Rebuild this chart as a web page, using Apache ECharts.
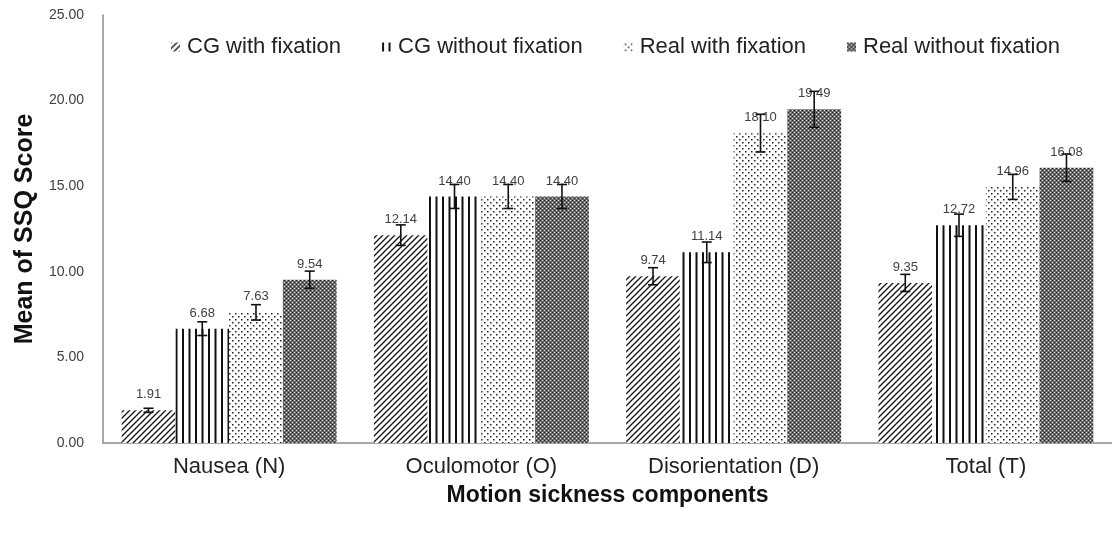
<!DOCTYPE html>
<html>
<head>
<meta charset="utf-8">
<script src="https://cdn.jsdelivr.net/npm/echarts@6/dist/echarts.min.js"></script>
<style>
html,body{margin:0;padding:0;background:#fff;}
#chart{width:1112px;height:533px;}
</style>
</head>
<body>
<div id="chart"></div>
<script>
const categories = ['Nausea (N)', 'Oculomotor (O)', 'Disorientation (D)', 'Total (T)'];
const seriesNames = ['CG with fixation', 'CG without fixation', 'Real with fixation', 'Real without fixation'];
const cgWithFixation = [1.91, 12.14, 9.74, 9.35];
const cgWithoutFixation = [6.68, 14.40, 11.14, 12.72];
const realWithFixation = [7.63, 14.40, 18.10, 14.96];
const realWithoutFixation = [9.54, 14.40, 19.49, 16.08];
const errCgWith = [0.12, 0.6, 0.5, 0.5];
const errCgWithout = [0.4, 0.7, 0.6, 0.65];
const errRealWith = [0.45, 0.7, 1.1, 0.73];
const errRealWithout = [0.5, 0.7, 1.05, 0.8];
const yTicks = [0, 5, 10, 15, 20, 25];

const values = [cgWithFixation, cgWithoutFixation, realWithFixation, realWithoutFixation];
const errors = [errCgWith, errCgWithout, errRealWith, errRealWithout];

function makeTile(w, h, draw) {
  const c = document.createElement('canvas');
  c.width = w; c.height = h;
  const ctx = c.getContext('2d');
  ctx.fillStyle = '#fff';
  ctx.fillRect(0, 0, w, h);
  draw(ctx);
  return c;
}
const hatch = makeTile(6, 6, ctx => {
  ctx.strokeStyle = '#111';
  ctx.lineWidth = 1.3;
  ctx.beginPath();
  ctx.moveTo(-1, 7); ctx.lineTo(7, -1);
  ctx.moveTo(-4, 4); ctx.lineTo(4, -4);
  ctx.moveTo(2, 10); ctx.lineTo(10, 2);
  ctx.stroke();
});
const vlines = makeTile(13, 4, ctx => {
  ctx.fillStyle = '#111';
  ctx.fillRect(0, 0, 2, 4);
  ctx.fillRect(6.5, 0, 2, 4);
});
const dots = makeTile(6, 6, ctx => {
  ctx.fillStyle = '#222';
  ctx.fillRect(1, 1, 1.5, 1.5);
  ctx.fillRect(4, 4, 1.5, 1.5);
});
const checker = makeTile(4, 4, ctx => {
  ctx.fillStyle = '#6a6a6a';
  ctx.fillRect(0, 0, 4, 4);
  ctx.fillStyle = '#222';
  ctx.fillRect(0, 0, 1, 1);
  ctx.fillRect(2, 2, 1, 1);
  ctx.fillStyle = '#e0e0e0';
  ctx.fillRect(2, 0, 1, 1);
  ctx.fillRect(0, 2, 1, 1);
});
const patterns = [hatch, vlines, dots, checker];

const catGapPct = 0.148;

const barSeries = seriesNames.map((name, i) => ({
  name: name,
  type: 'bar',
  data: values[i],
  barGap: '0%',
  barCategoryGap: (catGapPct * 100) + '%',
  itemStyle: { color: { image: patterns[i], repeat: 'repeat' } },
  label: {
    show: true,
    position: 'top',
    distance: 9,
    formatter: p => p.value.toFixed(2),
    fontFamily: 'Liberation Sans, Arial, sans-serif',
    fontSize: 13,
    color: '#404040'
  },
  z: 2
}));

const errData = [];
values.forEach((arr, s) => {
  arr.forEach((v, c) => {
    errData.push([c, s, v, errors[s][c]]);
  });
});

const errSeries = {
  type: 'custom',
  name: 'err',
  data: errData,
  encode: { x: 0, y: 2 },
  z: 5,
  silent: true,
  renderItem: function (params, api) {
    const c = api.value(0), s = api.value(1), v = api.value(2), e = api.value(3);
    const band = api.size([1, 0])[0];
    const groupW = band * (1 - catGapPct);
    const barW = groupW / 4;
    const center = api.coord([c, v]);
    const x = center[0] - groupW / 2 + barW * (s + 0.5);
    const yTop = api.coord([c, v + e])[1];
    const yBot = api.coord([c, v - e])[1];
    const cap = 5;
    const style = { stroke: '#111', lineWidth: 1.6 };
    return {
      type: 'group',
      children: [
        { type: 'line', shape: { x1: x, y1: yTop, x2: x, y2: yBot }, style: style },
        { type: 'line', shape: { x1: x - cap, y1: yTop, x2: x + cap, y2: yTop }, style: style },
        { type: 'line', shape: { x1: x - cap, y1: yBot, x2: x + cap, y2: yBot }, style: style }
      ]
    };
  }
};

const chart = echarts.init(document.getElementById('chart'), null, { renderer: 'canvas' });
chart.setOption({
  animation: false,
  backgroundColor: '#fff',
  textStyle: { fontFamily: 'Liberation Sans, Arial, sans-serif' },
  legend: {
    data: seriesNames,
    top: 31,
    left: 166,
    itemWidth: 9,
    itemHeight: 9,
    itemGap: 41,
    icon: 'rect',
    textStyle: { fontSize: 22, color: '#222', padding: [0, 0, 0, 2] }
  },
  grid: { left: 103, right: -3, top: 15, bottom: 90, containLabel: false },
  xAxis: {
    type: 'category',
    data: categories,
    axisLine: { lineStyle: { color: '#8c8c8c', width: 1.5 } },
    axisTick: { show: false },
    axisLabel: { fontSize: 22, color: '#222', margin: 13 },
    name: 'Motion sickness components',
    nameLocation: 'middle',
    nameGap: 41,
    nameTextStyle: { fontSize: 23, fontWeight: 'bold', color: '#111' }
  },
  yAxis: {
    type: 'value',
    min: 0,
    max: 25,
    interval: 5,
    axisLine: { show: true, lineStyle: { color: '#8c8c8c', width: 1.5 } },
    axisTick: { show: false },
    splitLine: { show: false },
    axisLabel: {
      fontSize: 14,
      color: '#404040',
      margin: 19,
      formatter: v => yTicks.includes(v) ? v.toFixed(2) : ''
    },
    name: 'Mean of SSQ Score',
    nameLocation: 'middle',
    nameGap: 59,
    nameTextStyle: { fontSize: 25, fontWeight: 'bold', color: '#111' }
  },
  series: barSeries.concat([errSeries])
});
</script>
</body>
</html>
